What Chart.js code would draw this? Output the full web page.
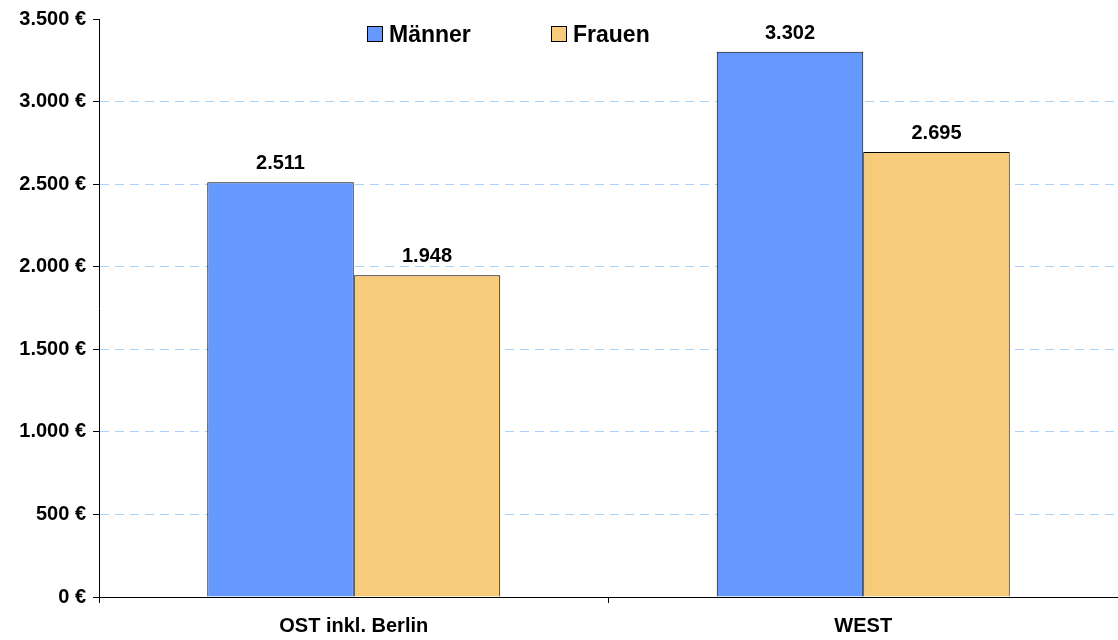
<!DOCTYPE html>
<html>
<head>
<meta charset="utf-8">
<script src="https://cdn.jsdelivr.net/npm/chart.js@4/dist/chart.umd.min.js"></script>
<style>
  html, body { margin: 0; padding: 0; background: #fff; }
  #wrap { width: 1118px; height: 640px; position: relative; }
</style>
</head>
<body>
<div id="wrap"><canvas id="einkommen"></canvas></div>
<script>
    // Werte aus der Vorlage
    const regionen = ['OST inkl. Berlin', 'WEST'];
    const maenner = [2511, 3302];
    const frauen = [1948, 2695];
    const serienNamen = ['Männer', 'Frauen'];
    const yTicks = [0, 500, 1000, 1500, 2000, 2500, 3000, 3500];

    const fontFamily = '"Liberation Sans", Arial, sans-serif';

    function formatDe(v) {
        return String(Math.round(v)).replace(/\B(?=(\d{3})+(?!\d))/g, '.');
    }

    // Werte ueber den Balken
    const barLabels = {
        id: 'barLabels',
        afterDatasetsDraw(chart) {
            const ctx = chart.ctx;
            ctx.save();
            ctx.font = 'bold 20px ' + fontFamily;
            ctx.fillStyle = '#000';
            ctx.textAlign = 'center';
            ctx.textBaseline = 'alphabetic';
            chart.data.datasets.forEach((ds, i) => {
                chart.getDatasetMeta(i).data.forEach((bar, j) => {
                    ctx.fillText(formatDe(ds.data[j]), bar.x, bar.y - 13);
                });
            });
            ctx.restore();
        }
    };

    // Legende im Diagramm, wie in der Vorlage
    const innerLegend = {
        id: 'innerLegend',
        afterDraw(chart) {
            const ctx = chart.ctx;
            const items = [{ x: 367 }, { x: 551 }];
            ctx.save();
            ctx.font = 'bold 23px ' + fontFamily;
            ctx.textBaseline = 'alphabetic';
            ctx.textAlign = 'left';
            chart.data.datasets.forEach((ds, i) => {
                const x = items[i].x;
                ctx.fillStyle = ds.backgroundColor;
                ctx.fillRect(x + 0.5, 26.5, 15, 15);
                ctx.lineWidth = 1;
                ctx.strokeStyle = '#000';
                ctx.strokeRect(x + 0.5, 26.5, 15, 15);
                ctx.fillStyle = '#000';
                ctx.fillText(ds.label, x + 22, 42);
            });
            ctx.restore();
        }
    };

    const ctx = document.getElementById('einkommen').getContext('2d');
    const chart = new Chart(ctx, {
        type: 'bar',
        data: {
            labels: regionen,
            datasets: [{
                label: serienNamen[0],
                data: maenner,
                backgroundColor: '#6699ff',
                borderColor: '#000',
                borderWidth: 1,
                categoryPercentage: 0.575,
                barPercentage: 1.0
            }, {
                label: serienNamen[1],
                data: frauen,
                backgroundColor: '#f6cc7a',
                borderColor: '#000',
                borderWidth: 1,
                categoryPercentage: 0.575,
                barPercentage: 1.0
            }]
        },
        options: {
            responsive: true,
            maintainAspectRatio: false,
            animation: false,
            layout: {
                padding: { top: 19, right: 0, left: 0, bottom: 0 }
            },
            plugins: {
                legend: { display: false },
                tooltip: { enabled: false }
            },
            scales: {
                x: {
                    offset: true,
                    grid: {
                        offset: true,
                        drawOnChartArea: false,
                        drawTicks: true,
                        tickLength: 6,
                        tickColor: '#000',
                        color: '#000'
                    },
                    border: { display: true, color: '#000', width: 1 },
                    ticks: {
                        color: '#000',
                        padding: 11,
                        font: { family: fontFamily, size: 20, weight: 'bold' }
                    },
                    afterFit(scale) { scale.height = 43; }
                },
                y: {
                    min: 0,
                    max: 3500,
                    afterBuildTicks(scale) {
                        scale.ticks = yTicks.map(v => ({ value: v }));
                    },
                    grid: {
                        color: (c) => (c.tick && (c.tick.value === 0 || c.tick.value === 3500)) ? 'rgba(0,0,0,0)' : '#a9d3fb',
                        lineWidth: 1,
                        drawTicks: true,
                        tickLength: 6,
                        tickColor: '#000'
                    },
                    border: { display: true, color: '#000', width: 1, dash: [9, 6] },
                    ticks: {
                        color: '#000',
                        padding: 7,
                        font: { family: fontFamily, size: 20, weight: 'bold' },
                        callback: (v) => formatDe(v) + ' €'
                    },
                    afterFit(scale) { scale.width = 99; }
                }
            }
        },
        plugins: [barLabels, innerLegend]
    });
</script>
</body>
</html>
